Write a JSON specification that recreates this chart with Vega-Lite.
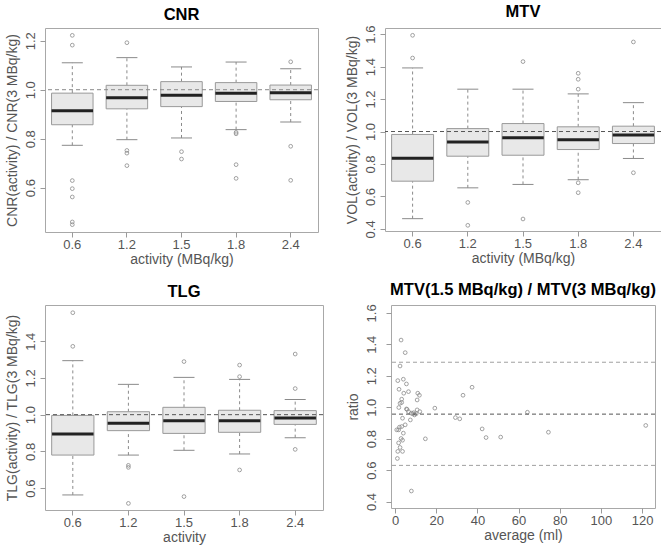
{
  "$schema": "https://vega.github.io/schema/vega-lite/v6.json",
  "background": "white",
  "padding": {"left": 4, "top": 3, "right": 2, "bottom": 2},
  "config": {
    "font": "Liberation Sans",
    "view": {"stroke": "#a8a8a8", "strokeWidth": 1},
    "axis": {"grid": false, "domain": false, "tickColor": "#9a9a9a", "tickSize": 5, "labelColor": "#555555", "titleColor": "#555555", "labelFontSize": 13, "titleFontSize": 14, "titleFontWeight": "normal", "labelFont": "Liberation Sans", "titleFont": "Liberation Sans", "labelPadding": 3, "titlePadding": 5, "labelOverlap": false},
    "axisY": {"labelAngle": -90},
    "axisX": {"labelAngle": 0, "labelPadding": 1, "titlePadding": 1},
    "tick": {"opacity": 1},
    "point": {"opacity": 1},
    "title": {"fontSize": 16.5, "fontWeight": "bold", "color": "#000000", "offset": 5, "frame": "group", "font": "Liberation Sans"}
  },
  "datasets": {
    "cnr_box": [
      {"activity": "0.6", "lower": 0.773, "q1": 0.857, "median": 0.914, "q3": 0.986, "upper": 1.110},
      {"activity": "1.2", "lower": 0.796, "q1": 0.922, "median": 0.967, "q3": 1.018, "upper": 1.131},
      {"activity": "1.5", "lower": 0.803, "q1": 0.931, "median": 0.977, "q3": 1.033, "upper": 1.093},
      {"activity": "1.8", "lower": 0.837, "q1": 0.952, "median": 0.986, "q3": 1.029, "upper": 1.113},
      {"activity": "2.4", "lower": 0.868, "q1": 0.959, "median": 0.988, "q3": 1.019, "upper": 1.086}
    ],
    "cnr_out": [
      {"activity": "0.6", "value": 1.222}, {"activity": "0.6", "value": 1.182}, {"activity": "0.6", "value": 0.629}, {"activity": "0.6", "value": 0.596}, {"activity": "0.6", "value": 0.562}, {"activity": "0.6", "value": 0.460}, {"activity": "0.6", "value": 0.449},
      {"activity": "1.2", "value": 1.192}, {"activity": "1.2", "value": 0.752}, {"activity": "1.2", "value": 0.741}, {"activity": "1.2", "value": 0.690},
      {"activity": "1.5", "value": 0.747}, {"activity": "1.5", "value": 0.717},
      {"activity": "1.8", "value": 0.826}, {"activity": "1.8", "value": 0.820}, {"activity": "1.8", "value": 0.694}, {"activity": "1.8", "value": 0.638},
      {"activity": "2.4", "value": 1.114}, {"activity": "2.4", "value": 0.769}, {"activity": "2.4", "value": 0.630}
    ],
    "mtv_box": [
      {"activity": "0.6", "lower": 0.463, "q1": 0.694, "median": 0.836, "q3": 0.982, "upper": 1.392},
      {"activity": "1.2", "lower": 0.653, "q1": 0.848, "median": 0.936, "q3": 1.018, "upper": 1.261},
      {"activity": "1.5", "lower": 0.674, "q1": 0.854, "median": 0.961, "q3": 1.049, "upper": 1.261},
      {"activity": "1.8", "lower": 0.703, "q1": 0.889, "median": 0.949, "q3": 1.029, "upper": 1.232},
      {"activity": "2.4", "lower": 0.834, "q1": 0.926, "median": 0.979, "q3": 1.033, "upper": 1.178}
    ],
    "mtv_out": [
      {"activity": "0.6", "value": 1.593}, {"activity": "0.6", "value": 1.453},
      {"activity": "1.2", "value": 0.563}, {"activity": "1.2", "value": 0.422},
      {"activity": "1.5", "value": 1.431}, {"activity": "1.5", "value": 0.461},
      {"activity": "1.8", "value": 1.359}, {"activity": "1.8", "value": 1.322}, {"activity": "1.8", "value": 1.261}, {"activity": "1.8", "value": 0.684}, {"activity": "1.8", "value": 0.623},
      {"activity": "2.4", "value": 1.552}, {"activity": "2.4", "value": 0.746}
    ],
    "tlg_box": [
      {"activity": "0.6", "lower": 0.563, "q1": 0.780, "median": 0.895, "q3": 0.996, "upper": 1.294},
      {"activity": "1.2", "lower": 0.780, "q1": 0.913, "median": 0.953, "q3": 1.016, "upper": 1.165},
      {"activity": "1.5", "lower": 0.806, "q1": 0.898, "median": 0.967, "q3": 1.040, "upper": 1.203},
      {"activity": "1.8", "lower": 0.786, "q1": 0.904, "median": 0.967, "q3": 1.024, "upper": 1.192},
      {"activity": "2.4", "lower": 0.875, "q1": 0.947, "median": 0.982, "q3": 1.022, "upper": 1.083}
    ],
    "tlg_out": [
      {"activity": "0.6", "value": 1.555}, {"activity": "0.6", "value": 1.372},
      {"activity": "1.2", "value": 0.724}, {"activity": "1.2", "value": 0.713}, {"activity": "1.2", "value": 0.517},
      {"activity": "1.5", "value": 1.289}, {"activity": "1.5", "value": 0.554},
      {"activity": "1.8", "value": 1.270}, {"activity": "1.8", "value": 1.207}, {"activity": "1.8", "value": 0.699},
      {"activity": "2.4", "value": 1.330}, {"activity": "2.4", "value": 1.142}, {"activity": "2.4", "value": 0.811}
    ],
    "ref": [{"ref": 1.0}],
    "ba_lines": [{"level": "upper", "ratio": 1.286}, {"level": "lower", "ratio": 0.630}],
    "ba_mean": [{"level": "mean", "ratio": 0.956}],
    "ba": [
      {"average": 2.9, "ratio": 1.427}, {"average": 4.9, "ratio": 1.347}, {"average": 2.4, "ratio": 1.262}, {"average": 1.3, "ratio": 1.169},
      {"average": 4.0, "ratio": 1.178}, {"average": 5.5, "ratio": 1.148}, {"average": 1.9, "ratio": 1.114}, {"average": 6.5, "ratio": 1.099},
      {"average": 4.2, "ratio": 1.089}, {"average": 11.0, "ratio": 1.089}, {"average": 11.8, "ratio": 1.076}, {"average": 10.7, "ratio": 1.046},
      {"average": 3.2, "ratio": 1.051}, {"average": 2.4, "ratio": 1.025}, {"average": 3.2, "ratio": 1.030}, {"average": 1.8, "ratio": 0.998},
      {"average": 5.5, "ratio": 0.989}, {"average": 6.5, "ratio": 0.972}, {"average": 7.9, "ratio": 0.962}, {"average": 8.6, "ratio": 0.958},
      {"average": 9.4, "ratio": 0.951}, {"average": 10.2, "ratio": 0.958}, {"average": 10.7, "ratio": 0.983}, {"average": 12.0, "ratio": 0.972},
      {"average": 19.3, "ratio": 0.994}, {"average": 7.4, "ratio": 0.919}, {"average": 3.6, "ratio": 0.930}, {"average": 4.9, "ratio": 0.888},
      {"average": 3.2, "ratio": 0.877}, {"average": 2.1, "ratio": 0.873}, {"average": 0.8, "ratio": 0.856}, {"average": 1.7, "ratio": 0.856},
      {"average": 4.0, "ratio": 0.835}, {"average": 2.9, "ratio": 0.801}, {"average": 3.6, "ratio": 0.790}, {"average": 1.7, "ratio": 0.773},
      {"average": 2.4, "ratio": 0.744}, {"average": 1.3, "ratio": 0.719}, {"average": 3.6, "ratio": 0.719}, {"average": 1.1, "ratio": 0.674},
      {"average": 7.9, "ratio": 0.467}, {"average": 14.7, "ratio": 0.799}, {"average": 29.3, "ratio": 0.934}, {"average": 31.4, "ratio": 0.926},
      {"average": 33.0, "ratio": 1.076}, {"average": 37.4, "ratio": 1.127}, {"average": 42.3, "ratio": 0.862}, {"average": 44.2, "ratio": 0.807},
      {"average": 51.3, "ratio": 0.810}, {"average": 64.3, "ratio": 0.968}, {"average": 74.5, "ratio": 0.841}, {"average": 121.8, "ratio": 0.884},
      {"average": 5.8, "ratio": 0.986}, {"average": 9.0, "ratio": 0.965}
    ]
  },
  "spacing": 14,
  "vconcat": [
    {
      "spacing": 25,
      "hconcat": [
        {
          "title": "CNR",
          "width": 273, "height": 204,
          "layer": [
            {"data": {"name": "cnr_box"}, "mark": {"type": "rule", "color": "#8a8a8a", "strokeDash": [3, 3]}, "encoding": {"x": {"field": "activity", "type": "ordinal", "sort": null, "scale": {"type": "band", "paddingInner": 0.24, "paddingOuter": 0.12}, "axis": {"title": "activity (MBq/kg)", "labelOverlap": false}}, "y": {"field": "q3", "type": "quantitative", "scale": {"domain": [0.419, 1.252], "nice": false, "zero": false}, "axis": {"title": "CNR(activity) / CNR(3 MBq/kg)", "values": [0.6, 0.8, 1.0, 1.2], "tickCount": 20, "format": ".1f", "labelOverlap": false}}, "y2": {"field": "upper"}}},
            {"data": {"name": "cnr_box"}, "mark": {"type": "rule", "color": "#8a8a8a", "strokeDash": [3, 3]}, "encoding": {"x": {"field": "activity", "type": "ordinal", "sort": null}, "y": {"field": "lower", "type": "quantitative"}, "y2": {"field": "q1"}}},
            {"data": {"name": "cnr_box"}, "mark": {"type": "bar", "fill": "#e8e8e8", "stroke": "#999999", "strokeWidth": 1}, "encoding": {"x": {"field": "activity", "type": "ordinal", "sort": null}, "y": {"field": "q1", "type": "quantitative"}, "y2": {"field": "q3"}}},
            {"data": {"name": "cnr_box"}, "mark": {"type": "tick", "color": "#222222", "thickness": 3, "opacity": 1}, "encoding": {"x": {"field": "activity", "type": "ordinal", "sort": null}, "y": {"field": "median", "type": "quantitative"}, "size": {"value": 41.5}}},
            {"data": {"name": "cnr_box"}, "mark": {"type": "tick", "color": "#8a8a8a", "thickness": 1, "opacity": 1}, "encoding": {"x": {"field": "activity", "type": "ordinal", "sort": null}, "y": {"field": "upper", "type": "quantitative"}, "size": {"value": 21}}},
            {"data": {"name": "cnr_box"}, "mark": {"type": "tick", "color": "#8a8a8a", "thickness": 1, "opacity": 1}, "encoding": {"x": {"field": "activity", "type": "ordinal", "sort": null}, "y": {"field": "lower", "type": "quantitative"}, "size": {"value": 21}}},
            {"data": {"name": "cnr_out"}, "mark": {"type": "point", "shape": "circle", "filled": false, "color": "#8a8a8a", "size": 14, "strokeWidth": 0.8, "opacity": 1}, "encoding": {"x": {"field": "activity", "type": "ordinal", "sort": null}, "y": {"field": "value", "type": "quantitative"}}},
            {"data": {"name": "ref"}, "mark": {"type": "rule", "color": "#888888", "strokeDash": [4, 3]}, "encoding": {"y": {"field": "ref", "type": "quantitative"}}}
          ]
        },
        {
          "title": "MTV",
          "width": 276, "height": 203,
          "layer": [
            {"data": {"name": "mtv_box"}, "mark": {"type": "rule", "color": "#8a8a8a", "strokeDash": [3, 3]}, "encoding": {"x": {"field": "activity", "type": "ordinal", "sort": null, "scale": {"type": "band", "paddingInner": 0.24, "paddingOuter": 0.12}, "axis": {"title": "activity (MBq/kg)", "labelOverlap": false}}, "y": {"field": "q3", "type": "quantitative", "scale": {"domain": [0.387, 1.638], "nice": false, "zero": false}, "axis": {"title": "VOL(activity) / VOL(3 MBq/kg)", "values": [0.4, 0.6, 0.8, 1.0, 1.2, 1.4, 1.6], "tickCount": 20, "format": ".1f", "labelOverlap": false}}, "y2": {"field": "upper"}}},
            {"data": {"name": "mtv_box"}, "mark": {"type": "rule", "color": "#8a8a8a", "strokeDash": [3, 3]}, "encoding": {"x": {"field": "activity", "type": "ordinal", "sort": null}, "y": {"field": "lower", "type": "quantitative"}, "y2": {"field": "q1"}}},
            {"data": {"name": "mtv_box"}, "mark": {"type": "bar", "fill": "#e8e8e8", "stroke": "#999999", "strokeWidth": 1}, "encoding": {"x": {"field": "activity", "type": "ordinal", "sort": null}, "y": {"field": "q1", "type": "quantitative"}, "y2": {"field": "q3"}}},
            {"data": {"name": "mtv_box"}, "mark": {"type": "tick", "color": "#222222", "thickness": 3, "opacity": 1}, "encoding": {"x": {"field": "activity", "type": "ordinal", "sort": null}, "y": {"field": "median", "type": "quantitative"}, "size": {"value": 41.5}}},
            {"data": {"name": "mtv_box"}, "mark": {"type": "tick", "color": "#8a8a8a", "thickness": 1, "opacity": 1}, "encoding": {"x": {"field": "activity", "type": "ordinal", "sort": null}, "y": {"field": "upper", "type": "quantitative"}, "size": {"value": 21}}},
            {"data": {"name": "mtv_box"}, "mark": {"type": "tick", "color": "#8a8a8a", "thickness": 1, "opacity": 1}, "encoding": {"x": {"field": "activity", "type": "ordinal", "sort": null}, "y": {"field": "lower", "type": "quantitative"}, "size": {"value": 21}}},
            {"data": {"name": "mtv_out"}, "mark": {"type": "point", "shape": "circle", "filled": false, "color": "#8a8a8a", "size": 14, "strokeWidth": 0.8, "opacity": 1}, "encoding": {"x": {"field": "activity", "type": "ordinal", "sort": null}, "y": {"field": "value", "type": "quantitative"}}},
            {"data": {"name": "ref"}, "mark": {"type": "rule", "color": "#555555", "strokeDash": [4, 3]}, "encoding": {"y": {"field": "ref", "type": "quantitative"}}}
          ]
        }
      ]
    },
    {
      "spacing": 21,
      "hconcat": [
        {
          "title": "TLG",
          "width": 278, "height": 205,
          "layer": [
            {"data": {"name": "tlg_box"}, "mark": {"type": "rule", "color": "#8a8a8a", "strokeDash": [3, 3]}, "encoding": {"x": {"field": "activity", "type": "ordinal", "sort": null, "scale": {"type": "band", "paddingInner": 0.24, "paddingOuter": 0.12}, "axis": {"title": "activity", "labelOverlap": false}}, "y": {"field": "q3", "type": "quantitative", "scale": {"domain": [0.481, 1.597], "nice": false, "zero": false}, "axis": {"title": "TLG(activity) / TLG(3 MBq/kg)", "values": [0.6, 0.8, 1.0, 1.2, 1.4], "tickCount": 20, "format": ".1f", "labelOverlap": false}}, "y2": {"field": "upper"}}},
            {"data": {"name": "tlg_box"}, "mark": {"type": "rule", "color": "#8a8a8a", "strokeDash": [3, 3]}, "encoding": {"x": {"field": "activity", "type": "ordinal", "sort": null}, "y": {"field": "lower", "type": "quantitative"}, "y2": {"field": "q1"}}},
            {"data": {"name": "tlg_box"}, "mark": {"type": "bar", "fill": "#e8e8e8", "stroke": "#999999", "strokeWidth": 1}, "encoding": {"x": {"field": "activity", "type": "ordinal", "sort": null}, "y": {"field": "q1", "type": "quantitative"}, "y2": {"field": "q3"}}},
            {"data": {"name": "tlg_box"}, "mark": {"type": "tick", "color": "#222222", "thickness": 3, "opacity": 1}, "encoding": {"x": {"field": "activity", "type": "ordinal", "sort": null}, "y": {"field": "median", "type": "quantitative"}, "size": {"value": 41.5}}},
            {"data": {"name": "tlg_box"}, "mark": {"type": "tick", "color": "#8a8a8a", "thickness": 1, "opacity": 1}, "encoding": {"x": {"field": "activity", "type": "ordinal", "sort": null}, "y": {"field": "upper", "type": "quantitative"}, "size": {"value": 21}}},
            {"data": {"name": "tlg_box"}, "mark": {"type": "tick", "color": "#8a8a8a", "thickness": 1, "opacity": 1}, "encoding": {"x": {"field": "activity", "type": "ordinal", "sort": null}, "y": {"field": "lower", "type": "quantitative"}, "size": {"value": 21}}},
            {"data": {"name": "tlg_out"}, "mark": {"type": "point", "shape": "circle", "filled": false, "color": "#8a8a8a", "size": 14, "strokeWidth": 0.8, "opacity": 1}, "encoding": {"x": {"field": "activity", "type": "ordinal", "sort": null}, "y": {"field": "value", "type": "quantitative"}}},
            {"data": {"name": "ref"}, "mark": {"type": "rule", "color": "#555555", "strokeDash": [4, 3]}, "encoding": {"y": {"field": "ref", "type": "quantitative"}}}
          ]
        },
        {
          "title": "MTV(1.5 MBq/kg) / MTV(3 MBq/kg)",
          "width": 264, "height": 203,
          "layer": [
            {"data": {"name": "ba"}, "mark": {"type": "point", "shape": "circle", "filled": false, "color": "#8a8a8a", "size": 14, "strokeWidth": 0.8, "opacity": 1},
             "encoding": {
               "x": {"field": "average", "type": "quantitative", "scale": {"domain": [-2, 126.3], "nice": false, "zero": false}, "axis": {"title": "average (ml)", "values": [0, 20, 40, 60, 80, 100, 120], "tickCount": 20, "labelOverlap": false}},
               "y": {"field": "ratio", "type": "quantitative", "scale": {"domain": [0.359, 1.65], "nice": false, "zero": false}, "axis": {"title": "ratio", "values": [0.4, 0.6, 0.8, 1.0, 1.2, 1.4, 1.6], "tickCount": 20, "format": ".1f", "labelPadding": 8, "labelOverlap": false}}
             }},
            {"data": {"name": "ba_mean"}, "mark": {"type": "rule", "color": "#555555", "strokeDash": [4, 3]}, "encoding": {"y": {"field": "ratio", "type": "quantitative"}}},
            {"data": {"name": "ba_lines"}, "mark": {"type": "rule", "color": "#a0a0a0", "strokeDash": [4, 3]}, "encoding": {"y": {"field": "ratio", "type": "quantitative"}}}
          ]
        }
      ]
    }
  ]
}
